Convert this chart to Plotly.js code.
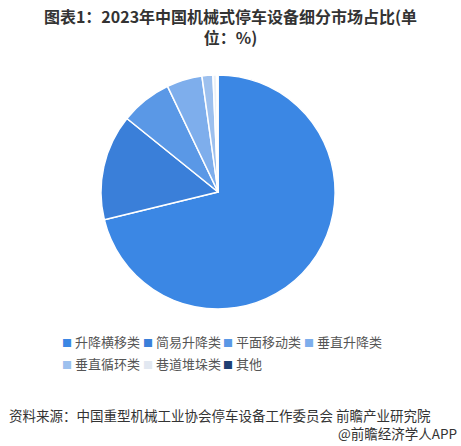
<!DOCTYPE html>
<html>
<head>
<meta charset="utf-8">
<script src="https://cdn.plot.ly/plotly-3.0.1.min.js"></script>
<style>
  html, body { margin: 0; padding: 0; background: #fff; }
  #chart { width: 461px; height: 446px; }
</style>
</head>
<body>
<div id="chart"></div>
<script>
// 2023年中国机械式停车设备细分市场占比 (%)
var categories = ['升降横移类', '简易升降类', '平面移动类', '垂直升降类', '垂直循环类', '巷道堆垛类', '其他'];
var shares = [71.2, 14.6, 7.1, 4.9, 1.5, 0.5, 0.2];
var sliceColors = ['#3b87e4', '#3a7fd9', '#5a98e6', '#7eaeec', '#9dc0ee', '#eaf0f8', '#1f3f72'];

var FONT = '"Noto Sans CJK SC", "Microsoft YaHei", sans-serif';
var W = 461, H = 446;

var trace = {
  type: 'pie',
  labels: categories,
  values: shares,
  sort: false,
  direction: 'clockwise',
  rotation: 0,
  textinfo: 'none',
  hoverinfo: 'label+percent',
  marker: {
    colors: sliceColors,
    line: {color: '#ffffff', width: 1.5}
  },
  domain: {x: [0.219, 0.727], y: [0.307, 0.832]}
};

// legend drawn as text rows (4 entries per row), markers take the slice colours
var legendNotes = categories.map(function(name, i) {
  var col = i % 4, row = Math.floor(i / 4);
  var markColor = i === 5 ? '#e2e8f1' : sliceColors[i];
  return {
    text: '<span style="color:' + markColor + ';font-size:10px">■</span> ' + name,
    xref: 'paper', yref: 'paper',
    x: (60 + col * 80.5) / W,
    y: 1 - (341 + row * 22) / H,
    xanchor: 'left', yanchor: 'middle',
    showarrow: false,
    font: {family: FONT, size: 13, color: '#555555'}
  };
});

var layout = {
  width: W,
  height: H,
  margin: {l: 0, r: 0, t: 0, b: 0},
  paper_bgcolor: '#ffffff',
  font: {family: FONT, color: '#333333'},
  title: {
    text: '<b>图表1：2023年中国机械式停车设备细分市场占比(单<br>位：%)</b>',
    font: {family: FONT, size: 16, color: '#333333'},
    x: 0.5,
    xanchor: 'center',
    xref: 'paper',
    y: 0.949,
    yanchor: 'top',
    yref: 'container'
  },
  showlegend: false,
  annotations: legendNotes.concat([
    {
      text: '资料来源：中国重型机械工业协会停车设备工作委员会 前瞻产业研究院',
      xref: 'paper', yref: 'paper',
      x: 0.015, y: 1 - 415 / H,
      xanchor: 'left', yanchor: 'middle',
      showarrow: false,
      font: {family: FONT, size: 13.5, color: '#333333'}
    },
    {
      text: '@前瞻经济学人APP',
      xref: 'paper', yref: 'paper',
      x: 0.995, y: 1 - 433 / H,
      xanchor: 'right', yanchor: 'middle',
      showarrow: false,
      font: {family: FONT, size: 13.5, color: '#333333'}
    }
  ])
};

Plotly.newPlot('chart', [trace], layout, {displayModeBar: false, staticPlot: true});
</script>
</body>
</html>
